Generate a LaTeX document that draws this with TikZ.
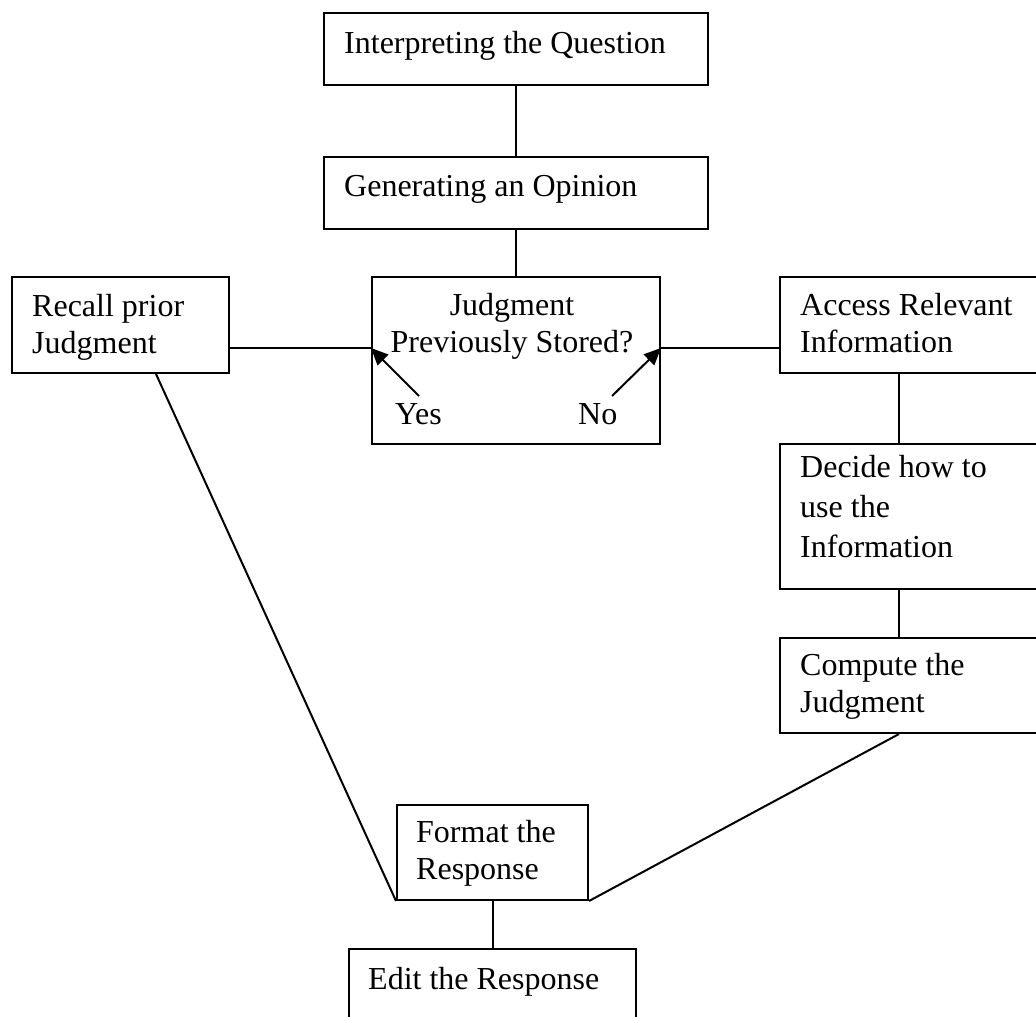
\documentclass[tikz,border=0pt]{standalone}
\usepackage{fontspec}
\setmainfont{Liberation Serif}
\usetikzlibrary{arrows.meta}
\begin{document}
\begin{tikzpicture}[x=1pt,y=-1pt,
  box/.style 2 args={draw, line width=2pt, minimum width=#1, minimum height=#2,
                     inner sep=0pt, anchor=north west},
  txt/.style={font=\fontsize{32}{37}\selectfont, inner sep=0pt, align=left, anchor=north west},
  link/.style={line width=2pt},
  pointer/.style={line width=2pt, -{Triangle[length=17pt,width=15pt]}}]
\useasboundingbox (0,0) rectangle (1036,1017);
\clip (0,0) rectangle (1036,1017);

% boxes
\node[box={384pt}{72pt}]  (interp)  at (323,12)  {};
\node[box={384pt}{72pt}]  (opinion) at (323,156) {};
\node[box={288pt}{167pt}] (stored)  at (371,276) {};
\node[box={217pt}{96pt}]  (recall)  at (11,276)  {};
\node[box={270pt}{96pt}]  (access)  at (779,276) {};
\node[box={270pt}{145pt}] (decide)  at (779,443) {};
\node[box={270pt}{95pt}]  (compute) at (779,637) {};
\node[box={191pt}{95pt}]  (format)  at (396,804) {};
\node[box={287pt}{95pt}]  (edit)    at (348,948) {};

% box texts
\node[txt] (interp-t)  at (344,31)  {Interpreting the Question};
\node[txt] (opinion-t) at (344,175) {Generating an Opinion};
\node[txt, anchor=north, align=center] (stored-t) at (512,293) {Judgment\\Previously Stored?};
\node[txt] (yes-t)     at (395,403) {Yes};
\node[txt] (no-t)      at (578,403) {No};
\node[txt] (recall-t)  at (32,294)  {Recall prior\\Judgment};
\node[txt] (access-t)  at (800,293) {Access Relevant\\Information};
\node[txt, font=\fontsize{32}{40}\selectfont] (decide-t) at (800,455) {Decide how to\\use the\\Information};
\node[txt] (compute-t) at (800,653) {Compute the\\Judgment};
\node[txt] (format-t)  at (416,820) {Format the\\Response};
\node[txt] (edit-t)    at (368,967) {Edit the Response};

% reference lines for connector positions
\coordinate (midrow)  at (0,348);
\coordinate (rightcol) at (899,0);
\coordinate (leftcol)  at (156,0);
\coordinate (yestail)  at (419,396);
\coordinate (notail)   at (612,396);

% connectors
\draw[link] (interp.south) -- (opinion.north);
\draw[link] (opinion.south) -- (stored.north);
\draw[link] (recall.east |- midrow) -- (stored.west |- midrow);
\draw[link] (access.west |- midrow) -- (stored.east |- midrow);
\draw[pointer] (yestail) -- (stored.west |- midrow);
\draw[pointer] (notail) -- (stored.east |- midrow);
\draw[link] (rightcol |- access.south) -- (rightcol |- decide.north);
\draw[link] (rightcol |- decide.south) -- (rightcol |- compute.north);
\draw[link] (leftcol |- recall.south) -- (format.south west);
\draw[link] (rightcol |- compute.south) -- (format.south east);
\draw[link] (format.south) -- (edit.north);
\end{tikzpicture}
\end{document}
